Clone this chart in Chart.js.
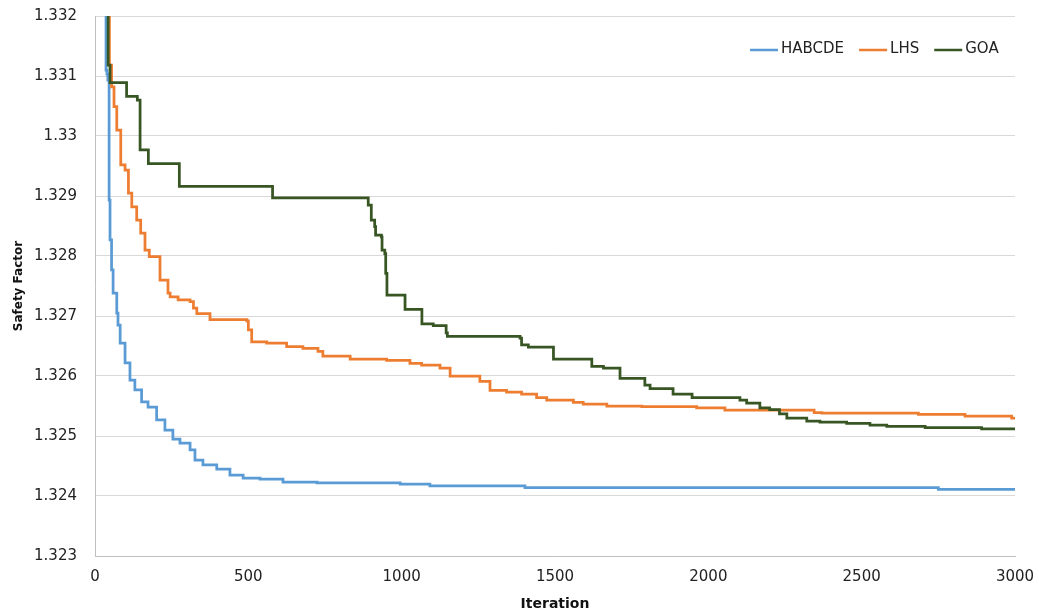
<!DOCTYPE html>
<html>
<head>
<meta charset="utf-8">
<script src="https://cdn.jsdelivr.net/npm/chart.js@4.4.1/dist/chart.umd.min.js"></script>
<style>
  html, body { margin: 0; padding: 0; background: #fff; }
  #wrap { width: 1039px; height: 614px; }
</style>
</head>
<body>
<div id="wrap"><canvas id="chart" width="1039" height="614"></canvas></div>
<script>
// values (iteration, safety factor)
const habcdeIter = [0, 36, 39, 42, 46, 49, 54, 59, 71, 75, 82, 98, 114, 130, 152, 173, 201, 228, 254, 277, 310, 326, 352, 397, 440, 483, 538, 613, 724, 995, 1092, 1402, 2750, 3000];
const habcdeVal = [1.336, 1.3311, 1.33103, 1.33093, 1.32893, 1.32827, 1.32777, 1.32738, 1.32705, 1.32685, 1.32655, 1.32622, 1.32593, 1.32577, 1.32557, 1.32548, 1.32527, 1.3251, 1.32495, 1.32488, 1.32477, 1.3246, 1.32452, 1.32445, 1.32435, 1.3243, 1.32428, 1.32423, 1.32422, 1.3242, 1.32417, 1.32414, 1.32411, 1.32411];

const lhsIter = [0, 47, 54, 62, 71, 84, 98, 109, 120, 136, 149, 163, 177, 212, 238, 245, 271, 310, 321, 332, 375, 495, 500, 511, 560, 625, 678, 727, 743, 832, 951, 1027, 1065, 1125, 1158, 1255, 1288, 1342, 1391, 1440, 1473, 1560, 1592, 1669, 1783, 1962, 2054, 2345, 2370, 2685, 2837, 2989, 3000];
const lhsVal = [1.336, 1.33118, 1.33082, 1.33049, 1.3301, 1.32952, 1.32943, 1.32905, 1.32882, 1.3286, 1.32838, 1.3281, 1.32799, 1.3276, 1.32738, 1.32732, 1.32727, 1.32724, 1.32713, 1.32704, 1.32694, 1.32692, 1.32677, 1.32657, 1.32655, 1.32649, 1.32646, 1.32641, 1.32633, 1.32628, 1.32626, 1.32621, 1.32618, 1.32613, 1.326, 1.32591, 1.32576, 1.32573, 1.3257, 1.32564, 1.3256, 1.32556, 1.32553, 1.3255, 1.32549, 1.32547, 1.32543, 1.32539, 1.32538, 1.32536, 1.32533, 1.3253, 1.3253];

const goaIter = [0, 43, 49, 103, 138, 147, 174, 275, 579, 891, 901, 912, 915, 934, 936, 945, 948, 952, 1011, 1066, 1103, 1145, 1149, 1386, 1391, 1413, 1495, 1620, 1658, 1712, 1793, 1810, 1885, 1947, 2103, 2125, 2168, 2200, 2232, 2256, 2321, 2364, 2451, 2527, 2582, 2707, 2891, 3000];
const goaVal = [1.336, 1.33118, 1.33089, 1.33066, 1.3306, 1.32977, 1.32954, 1.32916, 1.32897, 1.32885, 1.3286, 1.32849, 1.32835, 1.32832, 1.3281, 1.32804, 1.32771, 1.32735, 1.32711, 1.32687, 1.32684, 1.32672, 1.32666, 1.32663, 1.32652, 1.32648, 1.32628, 1.32616, 1.32613, 1.32596, 1.32585, 1.32579, 1.3257, 1.32564, 1.3256, 1.32555, 1.32547, 1.32544, 1.32537, 1.3253, 1.32525, 1.32523, 1.32521, 1.32518, 1.32516, 1.32514, 1.32512, 1.32512];

const seriesNames = ["HABCDE", "LHS", "GOA"];
const seriesColors = ["#5B9BD5", "#ED7D31", "#375623"];

const xTicks = [0, 500, 1000, 1500, 2000, 2500, 3000];
const xTickLabels = ["0", "500", "1000", "1500", "2000", "2500", "3000"];
const yTicks = [1.323, 1.324, 1.325, 1.326, 1.327, 1.328, 1.329, 1.33, 1.331, 1.332];
const yTickLabels = ["1.323", "1.324", "1.325", "1.326", "1.327", "1.328", "1.329", "1.33", "1.331", "1.332"];

const tickFont = { family: "DejaVu Sans", size: 15 };

function toPoints(xs, ys) {
  return xs.map((x, i) => ({ x: x, y: ys[i] }));
}

// legend drawn inside the plot, top right, like the original
const insideLegend = {
  id: "insideLegend",
  afterDraw(chart) {
    const ctx = chart.ctx;
    const y = 49;
    let x = 750;
    ctx.save();
    ctx.font = "15px 'DejaVu Sans'";
    ctx.textBaseline = "middle";
    ctx.textAlign = "left";
    chart.data.datasets.forEach((ds) => {
      ctx.strokeStyle = ds.borderColor;
      ctx.lineWidth = 2.5;
      ctx.beginPath();
      ctx.moveTo(x, y + 1);
      ctx.lineTo(x + 28, y + 1);
      ctx.stroke();
      ctx.fillStyle = "#222";
      ctx.fillText(ds.label, x + 31, y);
      x += 31 + ctx.measureText(ds.label).width + 15;
    });
    ctx.restore();
  },
};

const allIters = [habcdeIter, lhsIter, goaIter];
const allVals = [habcdeVal, lhsVal, goaVal];

new Chart(document.getElementById("chart"), {
  type: "line",
  data: {
    datasets: seriesNames.map((name, i) => ({
      label: name,
      data: toPoints(allIters[i], allVals[i]),
      borderColor: seriesColors[i],
      backgroundColor: seriesColors[i],
      borderWidth: 2.75,
      pointRadius: 0,
      stepped: true,
      tension: 0,
      fill: false,
      order: 2 - i,
    })),
  },
  options: {
    responsive: false,
    animation: false,
    layout: { padding: { left: 0, right: 24, top: 16, bottom: 0 } },
    plugins: {
      legend: { display: false },
      tooltip: { enabled: false },
    },
    scales: {
      x: {
        type: "linear",
        min: 0,
        max: 3000,
        afterBuildTicks: (scale) => {
          scale.ticks = xTicks.map((v) => ({ value: v }));
        },
        afterFit: (scale) => {
          scale.height = 58;
          scale.paddingLeft = 0;
          scale.paddingRight = 0;
        },
        grid: { display: false, drawTicks: false },
        border: { display: true, color: "#BFBFBF", width: 1 },
        ticks: {
          font: tickFont,
          color: "#222",
          padding: 12,
          maxRotation: 0,
          callback: (value, index) => xTickLabels[index],
        },
        title: {
          display: true,
          text: "Iteration",
          font: { family: "DejaVu Sans", size: 14, weight: "bold" },
          color: "#111",
          padding: { top: 0, bottom: 1 },
        },
      },
      y: {
        min: 1.323,
        max: 1.332,
        afterBuildTicks: (scale) => {
          scale.ticks = yTicks.map((v) => ({ value: v }));
        },
        afterFit: (scale) => {
          scale.width = 95;
          scale.paddingTop = 0;
          scale.paddingBottom = 0;
        },
        grid: { color: "#D9D9D9", lineWidth: 1, drawTicks: false },
        border: { display: true, color: "#BFBFBF", width: 1 },
        ticks: {
          font: tickFont,
          color: "#222",
          padding: 18,
          callback: (value, index) => yTickLabels[index],
        },
        title: {
          display: true,
          text: "Safety Factor",
          font: { family: "DejaVu Sans", size: 12, weight: "bold" },
          color: "#111",
          padding: { top: 12, bottom: 0 },
        },
      },
    },
  },
  plugins: [insideLegend],
});
</script>
</body>
</html>
